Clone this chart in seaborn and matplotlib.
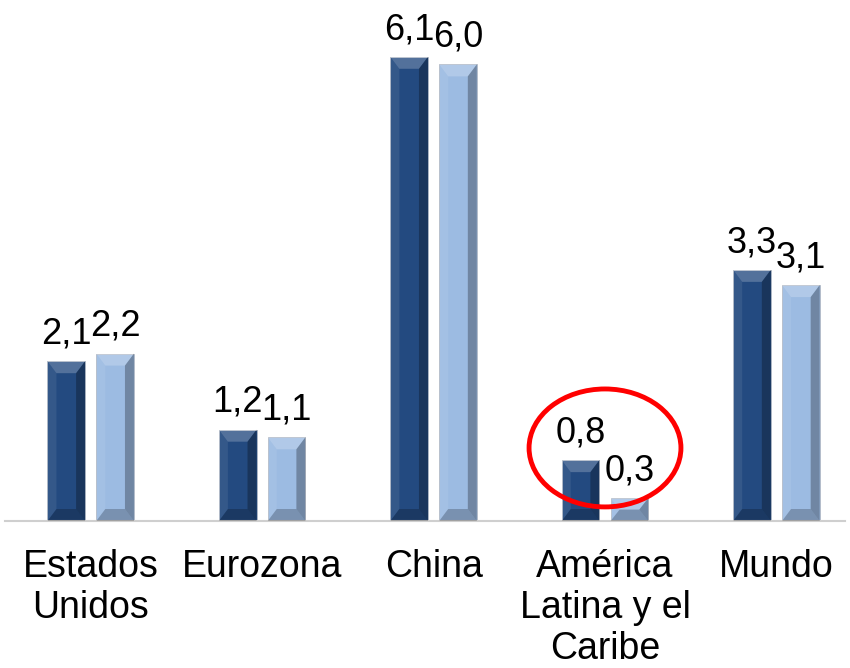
import matplotlib
matplotlib.use("Agg")
import matplotlib.pyplot as plt
import seaborn as sns
import pandas as pd
from matplotlib.patches import Ellipse, Polygon

categories = ["Estados\nUnidos", "Eurozona", "China", "América\nLatina y el\nCaribe", "Mundo"]
series_names = ["s1", "s2"]
values_s1 = [2.1, 1.2, 6.1, 0.8, 3.3]
values_s2 = [2.2, 1.1, 6.0, 0.3, 3.1]
labels_s1 = ["2,1", "1,2", "6,1", "0,8", "3,3"]
labels_s2 = ["2,2", "1,1", "6,0", "0,3", "3,1"]

df = pd.DataFrame({
    "cat": categories * 2,
    "serie": [series_names[0]] * 5 + [series_names[1]] * 5,
    "val": values_s1 + values_s2,
})

sns.set_theme(style="white")
plt.rcParams["font.family"] = ["Liberation Sans", "DejaVu Sans"]

fig = plt.figure(figsize=(8.5, 6.68), dpi=100)
ax = fig.add_axes([5 / 850, (668 - 521) / 668, 840 / 850, 517.5 / 668])

dark = "#234a80"
light = "#9cbbe2"
sns.barplot(data=df, x="cat", y="val", hue="serie", order=categories,
            hue_order=series_names, palette=[dark, light], width=0.57, gap=0.23,
            saturation=1, ax=ax, legend=False, edgecolor="none", linewidth=0)

ax.set_xlim(-0.5, 4.4)
ax.set_ylim(0, 6.8)

# bevel decoration derived from each bar's geometry
bx = 9 / 171.5
by = 12 / 76.1
for patch in list(ax.patches):
    x0 = patch.get_x()
    w = patch.get_width()
    h = patch.get_height()
    x1 = x0 + w
    dy = min(by, h / 2)
    dx = min(bx, w / 2)
    top = [(x0, h), (x1, h), (x1 - dx, h - dy), (x0 + dx, h - dy)]
    bot = [(x0, 0), (x1, 0), (x1 - dx, dy), (x0 + dx, dy)]
    left = [(x0, 0), (x0, h), (x0 + dx, h - dy), (x0 + dx, dy)]
    right = [(x1, 0), (x1, h), (x1 - dx, h - dy), (x1 - dx, dy)]
    ax.add_patch(Polygon(top, closed=True, facecolor="white", alpha=0.22, lw=0, zorder=3))
    ax.add_patch(Polygon(left, closed=True, facecolor="white", alpha=0.08, lw=0, zorder=3))
    ax.add_patch(Polygon(right, closed=True, facecolor="black", alpha=0.28, lw=0, zorder=3))
    ax.add_patch(Polygon(bot, closed=True, facecolor="black", alpha=0.22, lw=0, zorder=3))
    patch.set_edgecolor("#b0b8c4")
    patch.set_linewidth(0.6)

for cont, labs in zip(ax.containers, [labels_s1, labels_s2]):
    ax.bar_label(cont, labels=labs, padding=7, fontsize=26, color="black")

for s in ["top", "right", "left"]:
    ax.spines[s].set_visible(False)
ax.spines["bottom"].set_color("#cfcfcf")
ax.spines["bottom"].set_linewidth(1.5)
ax.set_yticks([])
ax.set_xlabel("")
ax.set_ylabel("")
ax.tick_params(axis="x", length=0, pad=20, labelsize=27)
for t in ax.get_xticklabels():
    t.set_linespacing(1.18)
    t.set_color("black")

ell = Ellipse((3.0, 0.96), 0.886, 1.55, fill=False, edgecolor="#ff0000",
              linewidth=3.5, clip_on=False, zorder=5)
ax.add_patch(ell)

fig.savefig("out.png", dpi=100)
